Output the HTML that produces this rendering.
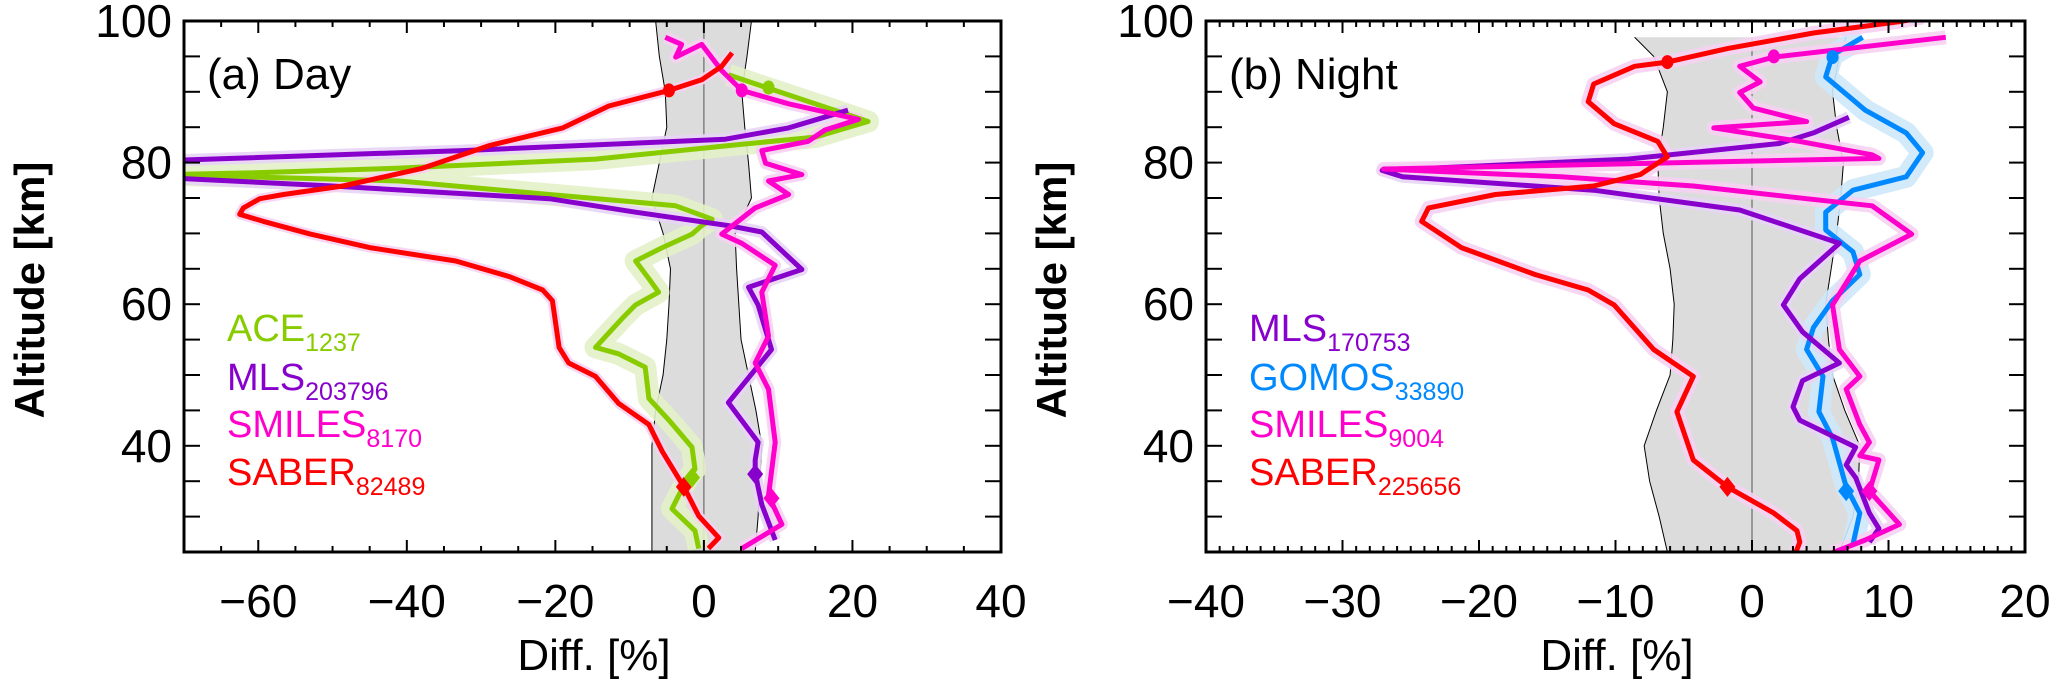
<!DOCTYPE html>
<html><head><meta charset="utf-8"><style>
html,body{margin:0;padding:0;background:#fff}
svg{display:block}
text{font-family:"Liberation Sans",Arial,sans-serif}
</style></head><body>
<svg id="fig" width="2067" height="691" viewBox="0 0 2067 691" xmlns="http://www.w3.org/2000/svg"></svg>
<script>
// ---------- Panel (a) Day data ----------
const dayAltSaber=[25.5,27,30.1,34.2,39.2,43,46,49.8,51.7,53.9,60.5,62,63.9,66.1,68,69.9,71.7,72.7,73.6,74.9,75.5,76.7,79.2,82.4,84.9,88,90.2,91.7,93.6,95.5];
const dayValSaber=[0.6,2,-0.7,-2.7,-5.6,-7.4,-11.5,-14.6,-18.2,-19.5,-20.4,-21.7,-26.2,-33.4,-45,-53,-59.3,-62.5,-62,-59.8,-56.6,-48.6,-37.9,-28.9,-19,-12.8,-4.7,-0.3,2.4,3.8];
const dayAltAce=[92.4,90.5,87.4,85.8,83.6,82.4,80.5,79.2,78.6,78.3,77.4,75.5,74.5,73.9,72,71.1,69.9,68,66.1,63.6,61.7,59.9,58,53.9,53,51.1,46.7,43.6,39.8,36.7,35.5,33,31.1,28,25.5];
const dayValAce=[3.3,8.7,17.6,22.1,15,3.3,-14.6,-41.4,-59.3,-72,-41,-20.8,-10.1,-3.8,1.1,-0.3,-1.6,-5.6,-9.2,-7.4,-6.1,-9.2,-11,-14.6,-11.5,-7.9,-7.4,-4.7,-1.6,-1.2,-2.1,-3.4,-4.3,-1.2,-0.7];
const dayAltMls=[87.4,84.9,83.3,81.7,80.2,78,76.7,74.9,73,71.1,70.2,64.9,62.4,59.9,53.6,46.1,40.5,38,36.1,31.7,26.7];
const dayValMls=[19.4,11.4,2.9,-32.5,-75,-75,-50,-20.8,-9.2,3.3,7.8,13.2,6,7.3,9.1,3.3,7.3,6.9,6.9,7.8,9.6];
const dayAltSmiles=[97.7,96.7,94.9,96.7,93,90.2,88.3,86.1,84.6,83,81.7,79.9,78.3,77.4,75.5,73.6,69.9,68.6,65.5,61.7,55.5,51.7,48,40.5,33,28.9,25.5];
const dayValSmiles=[-5.2,-3,-3.8,-0.3,2.4,5.1,11.4,20.8,16.3,14,7.8,8.3,13.2,8.7,11.4,6.9,2.4,5.1,9.6,7.8,8.7,6.9,8.7,9.6,8.7,10.5,5.1];
const dayBandAlt=[25,30,35,40,45,50,55,60,65,70,75,80,85,90,95,100];
const dayBandLo=[-7,-7,-7,-7,-6.5,-5.5,-5,-4.7,-4.5,-5.5,-7,-6,-5,-5.2,-6,-6.5];
const dayBandHi=[6.9,7.3,7.5,7.8,7,6,5,4.7,4.4,4.2,6.4,6,5.5,5.1,5.8,6.4];
const dayMarkCircle=[[90.2,-4.7,'#ff0000'],[90.2,5.1,'#ff00cc'],[90.6,8.7,'#88cc00']];
const dayMarkDiamond=[[34.2,-2.7,'#ff0000'],[35.5,-1.6,'#88cc00'],[36,6.9,'#8800cc'],[32.6,9.1,'#ff00cc']];

// ---------- Panel (b) Night data ----------
const nAltSaber=[24.9,26.4,28,30.5,34.2,38,44.8,49.8,53.6,59.9,62,64.2,68,71.7,73.6,75.5,76.7,78.3,80.8,83,85.5,88.6,91.1,93.6,94.2,96.1,98.3,99.9,100.5];
const nValSaber=[3.2,3.5,3.3,1.6,-1.8,-4.3,-5.5,-4.3,-7.2,-10.1,-12,-15.9,-21.3,-24.2,-23.7,-18.8,-11.6,-8.2,-6.2,-6.9,-10.1,-12,-11.6,-8.6,-6.2,-1.8,4.5,10.8,12.5];
const nAltMls=[86.4,84.2,82.7,80.5,78.9,78,76.1,73.3,68.6,63.6,59.9,56.1,51.7,49.2,45.5,43.6,39.8,37.3,35.5,30.5,28.3,26.4];
const nValMls=[7.1,4.5,2,-9.1,-27.1,-25.6,-11.6,-0.9,6.4,3.5,2.3,3.7,6.4,3.7,3,3.5,7.6,6.9,7.6,8.6,9.3,8.6];
const nAltGomos=[97.7,95.2,92.1,87.4,84.2,81.4,78,76.1,73,70.5,67.4,64.2,60.5,56.7,53.6,49.8,44.8,41.1,34.2,30.5,26.1];
const nValGomos=[8.1,5.9,5.4,8.3,11.3,12.5,11.3,7.4,5.4,5.4,7.4,7.9,5.9,4.5,4,5.2,4.9,5.9,6.9,7.9,7.4];
const nAltSmiles=[97.7,94.9,93.6,91.4,89.9,87.7,85.8,84.9,83,81.1,80.6,79.1,78,76.7,74.9,73.9,69.9,66.1,63,59.9,53.6,49.8,48,43,40.5,38.6,38,33.6,28.9,26.7,24.9];
const nValSmiles=[14.2,1.6,-0.9,0.6,-0.9,0.1,4,-2.8,3.5,8.8,9.3,-27,-14,-4.3,4,8.8,11.7,7.9,6.9,5.9,6.4,7.9,6.9,7.9,8.6,7.9,9.3,8.6,10.8,8.3,5.9];
const nBandAlt=[25,30,35,40,45,50,55,60,65,70,75,80,85,90,95,97.7];
const nBandLo=[-6.2,-6.8,-7.5,-7.9,-7,-6,-5.8,-5.7,-6,-6.5,-6.8,-6.9,-6.5,-6.2,-7.2,-8.6];
const nBandHi=[6.4,7.4,7.8,7.9,6.8,5.9,5.6,5.4,5.8,6.2,6.5,6.7,6.2,5.9,6.4,6.9];
const nMarkCircle=[[94.2,-6.2,'#ff0000'],[95,1.6,'#ff00cc'],[94.9,5.9,'#0088ff']];
const nMarkDiamond=[[34.2,-1.8,'#ff0000'],[33.6,6.9,'#0088ff'],[33.6,8.6,'#ff00cc']];

const NS='http://www.w3.org/2000/svg';
const svg=document.getElementById('fig');
function mk(tag,attrs,parent){const e=document.createElementNS(NS,tag);for(const k in attrs)e.setAttribute(k,attrs[k]);(parent||svg).appendChild(e);return e;}

const TOP=21,BOT=552,AMIN=25,AMAX=100;
function yS(a){return BOT-(a-AMIN)/(AMAX-AMIN)*(BOT-TOP);}

function panel(P){
  const xS=v=>P.L+(v-P.xmin)/(P.xmax-P.xmin)*(P.R-P.L);
  const g=mk('g',{});
  
  
  const cid='clip'+P.id;
  const cp=mk('clipPath',{id:cid},g);mk('rect',{x:P.L,y:TOP,width:P.R-P.L,height:BOT-TOP},cp);
  const pg=mk('g',{'clip-path':'url(#'+cid+')'},g);
  let d='';
  P.bandAlt.forEach((a,i)=>{d+=(i?'L':'M')+xS(P.bandLo[i])+','+yS(a);});
  for(let i=P.bandAlt.length-1;i>=0;i--)d+='L'+xS(P.bandHi[i])+','+yS(P.bandAlt[i]);
  const band=mk('path',{d:d+'Z',fill:'#dcdcdc',stroke:'none'},pg);
  
  
  ['bandLo','bandHi'].forEach(k=>{let dd='';P.bandAlt.forEach((a,i)=>{dd+=(i?'L':'M')+xS(P[k][i])+','+yS(a);});mk('path',{d:dd,fill:'none',stroke:'#000','stroke-width':1},pg);});
  const zl=mk('line',{x1:xS(0),x2:xS(0),y1:yS(P.bandAlt[P.bandAlt.length-1]),y2:BOT,stroke:'#555','stroke-width':1},pg);
  
  
  P.series.forEach(s=>{
    let p='';s.alt.forEach((a,i)=>{p+=(i?'L':'M')+xS(s.val[i]).toFixed(1)+','+yS(a).toFixed(1);});
    mk('path',{d:p,fill:'none',stroke:s.band,'stroke-width':s.bw,'stroke-linejoin':'round','stroke-opacity':0.9},pg);
  });
  P.series.forEach(s=>{
    let p='';s.alt.forEach((a,i)=>{p+=(i?'L':'M')+xS(s.val[i]).toFixed(1)+','+yS(a).toFixed(1);});
    const ln=mk('path',{d:p,fill:'none',stroke:s.color,'stroke-width':5,'stroke-linejoin':'round'},pg);
    
    
  });
  P.circles.forEach(m=>{const c=mk('ellipse',{cx:xS(m[1]),cy:yS(m[0]),rx:6,ry:7,fill:m[2]},pg);
    
    });
  P.diamonds.forEach(m=>{const x=xS(m[1]),y=yS(m[0]);const dm=mk('path',{d:`M${x},${y-10}L${x+8},${y}L${x},${y+10}L${x-8},${y}Z`,fill:m[2]},pg);
    
    });
  for(let v=P.xmin;v<=P.xmax+1e-6;v+=P.minor){
    const isMaj=Math.abs(v/P.major-Math.round(v/P.major))<1e-6;const len=isMaj?12:6;const x=xS(v);
    mk('line',{x1:x,x2:x,y1:BOT,y2:BOT-len,stroke:'#000','stroke-width':2},g);
    mk('line',{x1:x,x2:x,y1:TOP,y2:TOP+len,stroke:'#000','stroke-width':2},g);
  }
  for(let a=30;a<100;a+=5){const y=yS(a);
    mk('line',{x1:P.L,x2:P.L+16,y1:y,y2:y,stroke:'#000','stroke-width':2},g);
    mk('line',{x1:P.R,x2:P.R-16,y1:y,y2:y,stroke:'#000','stroke-width':2},g);}
  const fr=mk('rect',{x:P.L,y:TOP,width:P.R-P.L,height:BOT-TOP,fill:'none',stroke:'#000','stroke-width':3},g);
  
  
  P.xticks.forEach(v=>{const t=mk('text',{x:xS(v),y:617,'font-size':46,'text-anchor':'middle'},g);t.textContent=(v<0?'\u2212'+(-v):v);
    
    });
  [40,60,80,100].forEach(a=>{const t=mk('text',{x:P.L-12,y:yS(a)+16,'font-size':46,'text-anchor':'end'},g);t.textContent=a;
    
    });
  const xt=mk('text',{x:P.xTitle,y:670,'font-size':44,'text-anchor':'middle'},g);xt.textContent='Diff. [%]';
  
  
  const yt=mk('text',{x:0,y:0,'font-size':42,'font-weight':'bold','text-anchor':'middle',transform:`translate(${P.L-140},290) rotate(-90)`},g);yt.textContent='Altitude [km]';
  
  
  const pt=mk('text',{x:P.L+23,y:89,'font-size':44},g);pt.textContent=P.title;
  
  
  P.legend.forEach((l,i)=>{
    const t=mk('text',{x:P.L+P.legX,y:l.y,'font-size':38,fill:l.color},g);
    
    
    t.textContent=l.name;
    const s=mk('tspan',{'font-size':25,dy:10},t);s.textContent=l.n;
  });
}

const pink='#f6d2f2';
panel({id:'a',name:'day-panel',L:184,R:1001,xmin:-70,xmax:40,minor:5,major:20,xticks:[-60,-40,-20,0,20,40],xTitle:594,title:'(a) Day',legX:43,
  bandAlt:dayBandAlt,bandLo:dayBandLo,bandHi:dayBandHi,
  series:[
    {key:'ace',alt:dayAltAce,val:dayValAce,color:'#88cc00',band:'#e3f0c8',bw:22},
    {key:'mls',alt:dayAltMls,val:dayValMls,color:'#8800cc',band:'#e8d4f6',bw:12},
    {key:'smiles',alt:dayAltSmiles,val:dayValSmiles,color:'#ff00cc',band:pink,bw:12},
    {key:'saber',alt:dayAltSaber,val:dayValSaber,color:'#ff0000',band:pink,bw:10}],
  circles:dayMarkCircle,diamonds:dayMarkDiamond,
  legend:[{name:'ACE',n:'1237',color:'#88cc00',y:341},{name:'MLS',n:'203796',color:'#8800cc',y:390},{name:'SMILES',n:'8170',color:'#ff00cc',y:437},{name:'SABER',n:'82489',color:'#ff0000',y:485}]});
panel({id:'b',name:'night-panel',L:1206,R:2025,xmin:-40,xmax:20,minor:1,major:10,xticks:[-40,-30,-20,-10,0,10,20],xTitle:1617,title:'(b) Night',legX:43,
  bandAlt:nBandAlt,bandLo:nBandLo,bandHi:nBandHi,
  series:[
    {key:'gomos',alt:nAltGomos,val:nValGomos,color:'#0088ff',band:'#cde8fa',bw:22},
    {key:'mls',alt:nAltMls,val:nValMls,color:'#8800cc',band:'#e8d4f6',bw:12},
    {key:'smiles',alt:nAltSmiles,val:nValSmiles,color:'#ff00cc',band:pink,bw:14},
    {key:'saber',alt:nAltSaber,val:nValSaber,color:'#ff0000',band:pink,bw:14}],
  circles:nMarkCircle,diamonds:nMarkDiamond,
  legend:[{name:'MLS',n:'170753',color:'#8800cc',y:341},{name:'GOMOS',n:'33890',color:'#0088ff',y:390},{name:'SMILES',n:'9004',color:'#ff00cc',y:437},{name:'SABER',n:'225656',color:'#ff0000',y:485}]});
</script>
</body></html>
